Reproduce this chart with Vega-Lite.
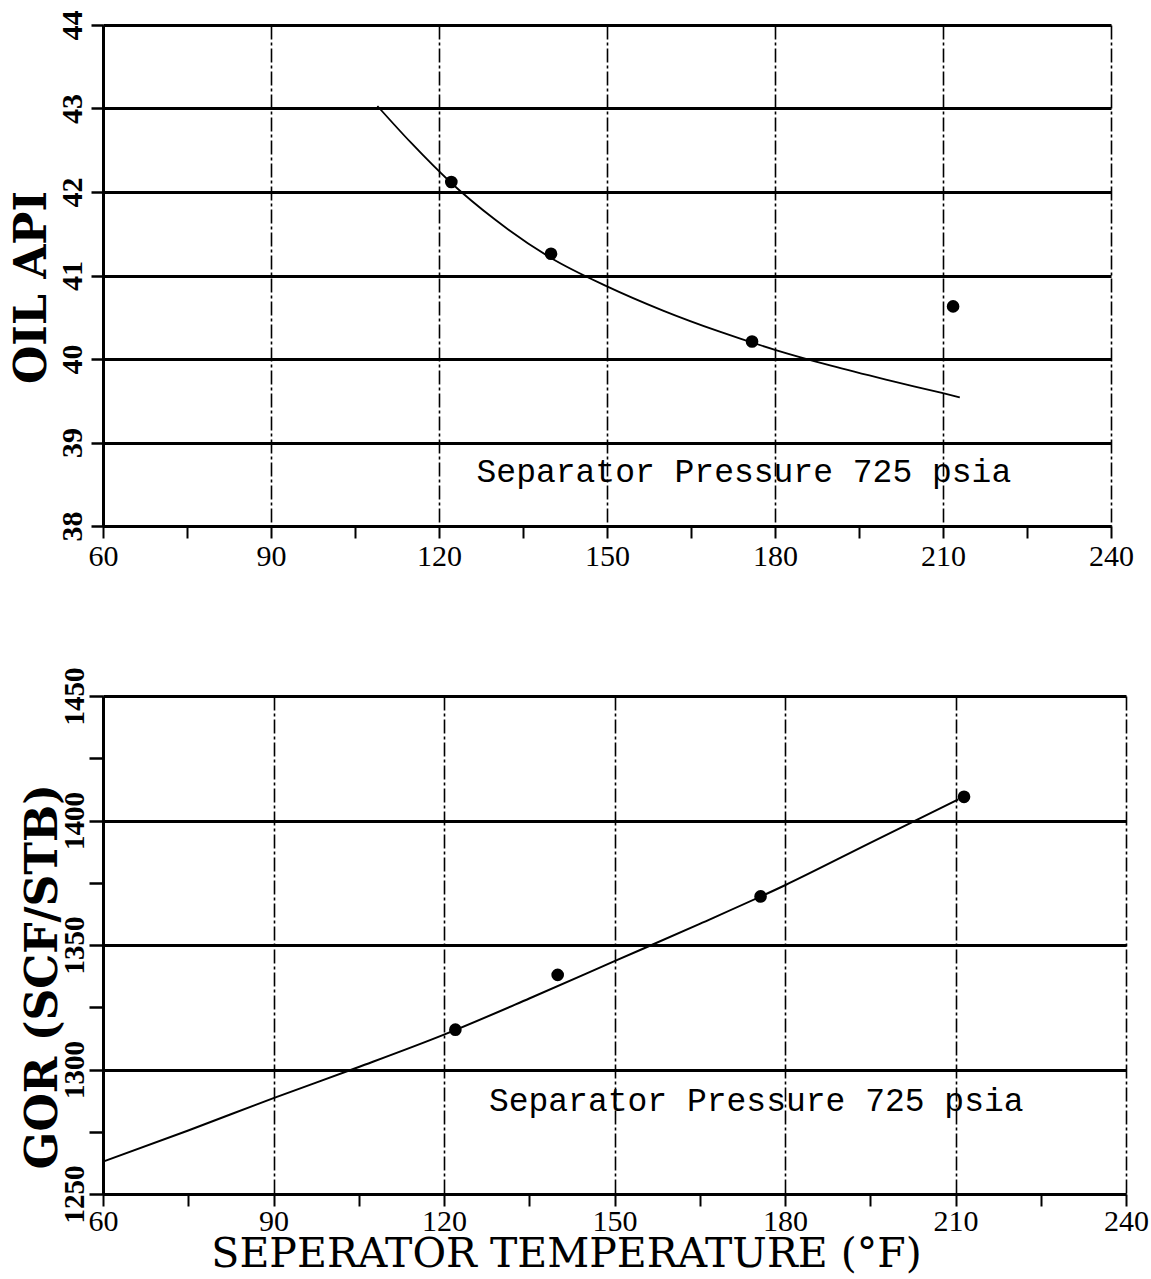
{
  "$schema": "https://vega.github.io/schema/vega-lite/v6.json",
  "background": "white",
  "padding": {"left": 10, "top": 10, "right": 0, "bottom": 0},
  "spacing": 96,
  "config": {
    "view": {"stroke": null},
    "axis": {
      "domainColor": "black",
      "tickColor": "black",
      "labelColor": "black",
      "titleColor": "black",
      "gridColor": "black",
      "labelOverlap": false,
      "labelBound": false,
      "labelFlush": false
    }
  },
  "datasets": {
    "oil_api_curve": [
      {"temp": 109, "api": 43.03},
      {"temp": 115, "api": 42.59},
      {"temp": 122, "api": 42.12},
      {"temp": 130, "api": 41.67},
      {"temp": 140, "api": 41.21},
      {"temp": 150, "api": 40.87},
      {"temp": 160, "api": 40.58},
      {"temp": 170, "api": 40.33},
      {"temp": 180, "api": 40.11},
      {"temp": 190, "api": 39.92},
      {"temp": 200, "api": 39.75},
      {"temp": 210, "api": 39.59},
      {"temp": 213, "api": 39.54}
    ],
    "oil_api_points": [
      {"temp": 122.2, "api": 42.12},
      {"temp": 140, "api": 41.26},
      {"temp": 175.9, "api": 40.21},
      {"temp": 211.8, "api": 40.63}
    ],
    "gor_curve": [
      {"temp": 60, "gor": 1263},
      {"temp": 75, "gor": 1275.5},
      {"temp": 90, "gor": 1288.5},
      {"temp": 105, "gor": 1301},
      {"temp": 120, "gor": 1314},
      {"temp": 135, "gor": 1328.5},
      {"temp": 150, "gor": 1343.5},
      {"temp": 165, "gor": 1358.5},
      {"temp": 180, "gor": 1374},
      {"temp": 195, "gor": 1391},
      {"temp": 210.5, "gor": 1408.5}
    ],
    "gor_points": [
      {"temp": 122, "gor": 1316},
      {"temp": 140, "gor": 1338},
      {"temp": 175.7, "gor": 1369.5},
      {"temp": 211.5, "gor": 1409.5}
    ]
  },
  "vconcat": [
    {
      "width": 1008,
      "height": 501,
      "layer": [
        {
          "data": {"name": "oil_api_curve"},
          "mark": {"type": "line", "color": "black", "strokeWidth": 1.8, "interpolate": "monotone"},
          "encoding": {
            "x": {
              "field": "temp",
              "type": "quantitative",
              "scale": {"domain": [60, 240], "nice": false, "zero": false},
              "axis": {
                "values": [60, 75, 90, 105, 120, 135, 150, 165, 180, 195, 210, 225, 240],
                "title": null,
                "grid": true,
                "gridWidth": 1.6,
                "gridDash": [14, 3, 3, 3],
                "gridOpacity": {"condition": {"test": "datum.value % 30 === 0", "value": 1}, "value": 0},
                "domainWidth": 3,
                "tickSize": 12,
                "tickWidth": 2,
                "format": "d",
                "labelExpr": "datum.value % 30 === 0 ? datum.label : ''",
                "labelFont": "Liberation Serif",
                "labelFontSize": 30,
                "labelPadding": 3
              }
            },
            "y": {
              "field": "api",
              "type": "quantitative",
              "scale": {"domain": [38, 44], "nice": false, "zero": false},
              "axis": {
                "values": [38, 39, 40, 41, 42, 43, 44],
                "format": "d",
                "title": "OIL API",
                "titleFont": "DejaVu Serif",
                "titleFontWeight": "bold",
                "titleFontSize": 44,
                "titleAngle": -90,
                "titleAlign": "center",
                "titleBaseline": "middle",
                "titleX": -71,
                "titleY": 262,
                "grid": true,
                "gridWidth": 3,
                "domainWidth": 3,
                "tickSize": 12,
                "tickWidth": 2.5,
                "labelAngle": -90,
                "labelFont": "Liberation Serif",
                "labelFontWeight": "bold",
                "labelFontSize": 30,
                "labelPadding": 4
              }
            }
          }
        },
        {
          "data": {"name": "oil_api_points"},
          "mark": {"type": "point", "filled": true, "color": "black", "size": 160, "opacity": 1},
          "encoding": {
            "x": {"field": "temp", "type": "quantitative"},
            "y": {"field": "api", "type": "quantitative"}
          }
        },
        {
          "data": {"values": [{"note": "Separator Pressure 725 psia"}]},
          "mark": {"type": "text", "font": "Liberation Mono", "fontSize": 33, "align": "left", "baseline": "alphabetic", "color": "black"},
          "encoding": {
            "x": {"datum": 126.7, "type": "quantitative"},
            "y": {"datum": 38.53, "type": "quantitative"},
            "text": {"field": "note"}
          }
        }
      ]
    },
    {
      "width": 1023,
      "height": 498,
      "layer": [
        {
          "data": {"name": "gor_curve"},
          "mark": {"type": "line", "color": "black", "strokeWidth": 2, "interpolate": "monotone"},
          "encoding": {
            "x": {
              "field": "temp",
              "type": "quantitative",
              "scale": {"domain": [60, 240], "nice": false, "zero": false},
              "axis": {
                "values": [60, 75, 90, 105, 120, 135, 150, 165, 180, 195, 210, 225, 240],
                "title": "SEPERATOR TEMPERATURE (°F)",
                "titleFont": "DejaVu Serif",
                "titleFontWeight": "normal",
                "titleFontSize": 41,
                "titleAlign": "center",
                "titleBaseline": "alphabetic",
                "titleX": 463,
                "titleY": 72,
                "grid": true,
                "gridWidth": 1.6,
                "gridDash": [14, 3, 3, 3],
                "gridOpacity": {"condition": {"test": "datum.value % 30 === 0", "value": 1}, "value": 0},
                "domainWidth": 3,
                "tickSize": 12,
                "tickWidth": 2,
                "format": "d",
                "labelExpr": "datum.value % 30 === 0 ? datum.label : ''",
                "labelFont": "Liberation Serif",
                "labelFontSize": 30,
                "labelPadding": 0
              }
            },
            "y": {
              "field": "gor",
              "type": "quantitative",
              "scale": {"domain": [1250, 1450], "nice": false, "zero": false},
              "axis": {
                "values": [1250, 1275, 1300, 1325, 1350, 1375, 1400, 1425, 1450],
                "format": "d",
                "title": "GOR (SCF/STB)",
                "titleFont": "DejaVu Serif",
                "titleFontWeight": "bold",
                "titleFontSize": 44,
                "titleAngle": -90,
                "titleAlign": "center",
                "titleBaseline": "middle",
                "titleX": -60,
                "titleY": 280,
                "grid": true,
                "gridWidth": 3,
                "gridOpacity": {"condition": {"test": "datum.value % 50 === 0", "value": 1}, "value": 0},
                "domainWidth": 3,
                "tickSize": 14,
                "tickWidth": 2.5,
                "labelExpr": "datum.value % 50 === 0 ? datum.label : ''",
                "labelAngle": -90,
                "labelFont": "Liberation Serif",
                "labelFontWeight": "bold",
                "labelFontSize": 29,
                "labelPadding": 0
              }
            }
          }
        },
        {
          "data": {"name": "gor_points"},
          "mark": {"type": "point", "filled": true, "color": "black", "size": 160, "opacity": 1},
          "encoding": {
            "x": {"field": "temp", "type": "quantitative"},
            "y": {"field": "gor", "type": "quantitative"}
          }
        },
        {
          "data": {"values": [{"note": "Separator Pressure 725 psia"}]},
          "mark": {"type": "text", "font": "Liberation Mono", "fontSize": 33, "align": "left", "baseline": "alphabetic", "color": "black"},
          "encoding": {
            "x": {"datum": 127.9, "type": "quantitative"},
            "y": {"datum": 1283.5, "type": "quantitative"},
            "text": {"field": "note"}
          }
        }
      ]
    }
  ]
}
